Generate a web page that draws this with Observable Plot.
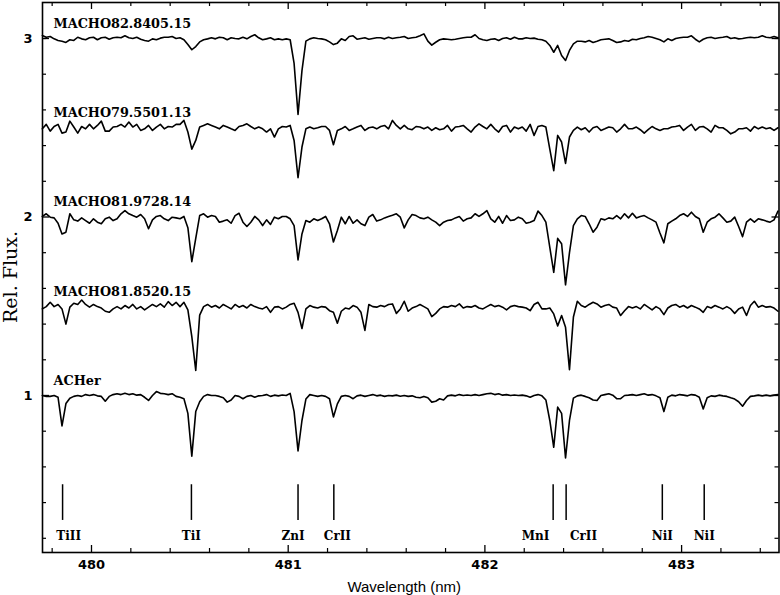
<!DOCTYPE html>
<html>
<head>
<meta charset="utf-8">
<script src="https://cdn.jsdelivr.net/npm/d3@7"></script>
<script src="https://cdn.jsdelivr.net/npm/@observablehq/plot@0.6"></script>
<style>
  html, body { margin: 0; padding: 0; background: #fff; }
  #chart svg { display: block; }
</style>
</head>
<body>
<div id="chart"></div>
<script>
// ---- Data ----
const stars = ["MACHO82.8405.15", "MACHO79.5501.13", "MACHO81.9728.14", "MACHO81.8520.15", "ACHer"];
const offsets = [2, 1.5, 1, 0.5, 0];          // vertical shift of each spectrum
const wlStart = 479.75;                       // nm, first sample
const wlStep = 0.02;                          // nm, sampling step

const fluxMACHO82 = [
1.017,1.007,1.011,0.998,0.989,0.985,0.978,0.993,0.989,1.007,
0.998,0.993,1.004,1.007,0.993,1.004,1.007,0.996,1.004,1.007,
1.004,1.015,1.004,1.0,1.007,0.996,0.989,0.985,0.998,0.993,
1.002,1.007,1.007,1.011,1.0,1.004,0.993,0.966,0.937,0.955,
0.981,0.993,0.998,1.004,0.998,1.007,1.004,0.993,1.004,1.0,
0.998,1.007,0.998,1.011,1.021,1.004,0.993,0.998,1.004,0.993,
0.998,0.993,0.998,0.993,0.86,0.575,0.82,0.985,0.998,1.004,
1.0,0.998,0.993,0.981,0.966,0.974,0.998,0.989,1.011,1.015,
0.996,1.0,1.004,0.996,1.0,1.004,1.004,0.998,1.007,1.0,
1.004,1.007,1.011,1.0,1.004,1.007,1.015,1.026,0.985,0.963,
0.979,0.993,0.998,0.996,0.993,0.996,1.0,1.004,1.007,1.007,
1.021,1.0,0.993,0.989,0.996,0.998,0.989,1.0,1.004,0.996,
1.007,0.998,0.998,1.004,1.0,1.002,0.996,0.993,0.985,0.961,
0.923,0.961,0.905,0.877,0.933,0.97,0.985,0.985,0.981,0.989,
0.978,0.985,0.993,0.996,0.998,0.989,0.978,0.981,0.989,0.985,
0.996,0.993,1.0,1.004,1.011,1.007,1.0,0.993,0.981,0.998,
0.989,1.0,1.004,1.007,1.007,1.015,0.996,0.981,0.996,1.004,
1.007,1.0,1.004,1.007,1.011,1.0,1.004,0.998,1.0,1.004,
1.007,1.004,1.007,1.015,1.007,1.004,1.011,1.004
];

const fluxMACHO79 = [
0.994,1.019,0.981,1.007,1.019,0.97,0.976,1.037,1.004,0.97,
1.007,0.994,1.019,0.994,1.013,1.037,0.981,0.981,1.004,1.007,
1.019,1.004,1.032,1.004,1.019,0.985,0.994,1.013,0.985,1.004,
1.019,0.994,1.007,1.004,1.019,1.019,1.041,0.976,0.88,0.929,
1.004,1.013,1.022,1.013,1.004,0.994,1.013,1.004,0.994,0.985,
1.007,1.013,1.022,1.007,0.994,1.004,0.994,0.976,0.994,0.948,
0.994,1.007,1.004,1.013,0.929,0.72,0.892,0.994,1.004,0.994,
1.0,1.007,1.007,0.985,0.905,0.985,0.994,1.007,0.985,0.994,
1.004,1.013,0.985,1.0,1.004,0.994,1.007,1.013,0.994,1.041,
1.013,0.994,1.013,0.994,0.989,1.007,1.004,0.994,1.004,0.985,
1.0,0.989,0.994,1.013,0.981,1.004,1.007,1.013,0.994,0.976,
1.004,1.022,1.007,0.994,1.019,0.994,0.976,1.007,1.013,0.976,
1.004,0.994,1.004,0.981,1.019,0.957,1.007,1.013,1.004,0.88,
0.76,0.957,0.92,0.80,0.948,0.985,1.004,0.989,1.0,0.976,
1.0,1.007,0.985,0.994,1.004,1.0,0.976,0.994,1.019,0.994,
0.994,1.004,0.989,0.97,0.989,1.007,0.994,0.985,0.994,0.994,
1.004,1.007,1.013,0.985,1.004,1.019,0.985,1.004,1.007,0.994,
0.976,1.013,1.0,1.0,0.985,0.966,0.976,0.994,0.994,1.0,
0.981,1.007,0.994,1.004,0.994,1.0,0.985,1.0
];

const fluxMACHO81a = [
1.003,1.018,0.999,0.995,0.965,0.905,0.915,1.018,0.984,0.977,
0.995,0.98,0.965,0.99,0.971,0.962,0.99,0.999,0.98,0.99,
1.018,1.036,1.018,1.008,0.999,1.014,0.99,0.934,0.984,1.003,
1.008,0.99,0.98,0.999,0.995,0.99,1.003,0.94,0.75,0.88,
1.008,1.018,0.999,1.008,1.003,0.971,0.977,0.984,0.965,1.008,
1.021,0.971,0.947,0.971,1.003,0.984,0.952,0.984,0.958,0.999,
0.99,1.003,1.003,0.99,0.952,0.76,0.905,0.98,0.971,0.99,
0.98,0.99,1.003,0.962,0.86,0.924,0.999,0.962,1.003,0.965,
0.984,0.962,0.952,0.999,1.014,0.977,0.984,0.995,1.003,1.01,
1.018,0.999,0.939,0.984,1.014,1.008,0.995,0.99,0.999,0.984,
0.971,0.952,0.971,0.98,0.984,0.995,1.003,0.977,0.99,0.995,
1.018,1.003,1.018,1.036,0.99,0.971,1.003,0.965,1.008,0.98,
0.984,0.999,0.99,0.965,0.971,0.98,1.033,1.008,0.971,0.83,
0.69,0.88,0.85,0.62,0.80,0.952,0.99,1.008,1.003,0.962,
0.915,0.943,0.99,0.984,0.995,0.99,1.008,0.99,1.018,0.995,
1.021,0.995,1.003,1.008,0.995,0.984,0.971,0.91,0.855,0.962,
0.977,0.99,1.008,1.018,1.003,1.027,1.003,0.99,0.915,0.971,
0.99,0.999,1.018,0.995,0.971,0.977,0.999,0.947,0.89,0.971,
0.99,0.971,0.99,0.984,0.977,0.971,0.984,1.033
];

const fluxMACHO81b = [
0.985,0.998,1.022,0.998,1.01,0.985,0.90,0.995,1.017,1.01,
1.035,1.01,0.995,1.01,0.998,0.99,0.972,0.966,0.985,0.998,
0.985,1.004,0.99,1.01,0.985,0.998,0.98,0.995,1.01,0.998,
1.013,0.995,1.026,1.004,1.022,0.998,1.022,0.98,0.83,0.64,
0.95,0.998,1.01,0.995,1.004,0.99,1.01,0.998,0.985,1.01,
0.995,1.004,0.99,1.01,0.998,0.99,0.985,0.998,0.966,0.995,
0.998,0.985,0.995,1.01,1.017,0.966,0.875,0.985,1.004,0.995,
0.99,0.998,0.995,0.975,0.966,0.905,0.972,0.99,0.985,1.004,
0.995,0.966,0.865,1.01,0.998,0.995,1.004,0.998,1.01,1.013,
0.96,0.985,1.028,0.972,0.99,0.998,1.01,0.998,0.985,0.942,
0.96,0.985,0.998,0.995,1.004,0.998,1.013,0.99,0.998,0.995,
1.004,0.99,0.985,0.998,1.01,0.998,1.004,0.995,0.98,0.998,
1.004,0.998,0.995,0.99,0.975,1.01,1.022,0.985,0.985,0.99,
0.957,0.89,0.948,0.882,0.645,0.94,1.028,1.004,0.995,1.01,
1.022,1.013,0.995,1.004,1.01,0.995,0.99,0.948,0.975,0.998,
0.99,0.998,0.985,1.01,0.995,0.98,0.998,0.985,0.953,0.99,
1.004,1.01,0.995,1.004,0.99,1.004,0.995,0.985,0.966,0.998,
0.99,1.004,0.995,0.985,0.998,0.985,0.96,0.985,0.995,0.948,
1.004,1.028,0.995,1.004,0.995,0.998,0.99,0.972
];

const fluxACHer = [
1.0,0.995,0.995,1.0,0.99,0.83,0.955,0.985,0.995,1.0,
0.995,1.005,1.0,1.005,0.998,0.995,0.968,0.995,1.005,1.01,
1.005,1.012,1.005,1.01,1.002,1.005,0.99,0.972,1.0,1.022,
1.012,1.01,1.005,1.01,0.995,0.99,0.982,0.90,0.66,0.91,
0.965,0.995,1.005,1.0,1.0,0.995,0.987,0.963,0.975,1.0,
0.995,0.982,0.995,1.0,0.99,0.998,1.0,1.005,0.995,1.002,
0.998,1.003,1.0,1.012,0.91,0.69,0.86,0.98,1.005,1.0,
0.995,1.0,0.995,0.982,0.88,0.953,0.995,1.0,0.995,0.982,
0.998,1.002,0.995,1.0,1.005,0.998,1.002,0.995,1.0,0.998,
1.002,0.996,1.0,0.995,0.998,0.99,0.987,0.995,0.987,0.963,
0.968,0.982,0.975,0.998,1.002,0.998,1.005,1.0,1.003,1.0,
1.005,1.0,1.005,1.01,1.012,1.005,1.01,1.002,1.005,1.0,
1.003,1.0,1.002,0.998,0.99,1.0,1.005,0.998,0.975,0.86,
0.71,0.935,0.90,0.65,0.86,0.985,0.998,1.002,0.995,0.987,
0.975,0.972,1.0,1.005,1.01,1.002,0.982,0.982,1.0,1.002,
1.005,1.0,1.005,1.01,1.002,1.005,0.998,0.987,0.91,0.99,
1.002,0.998,1.005,1.002,0.998,1.005,1.002,0.99,0.925,0.987,
0.998,0.995,1.002,0.998,0.995,0.987,0.98,0.965,0.94,0.972,
0.995,0.998,1.002,0.998,1.002,0.998,1.002,1.005
];

const fluxes = [fluxMACHO82, fluxMACHO79, fluxMACHO81a, fluxMACHO81b, fluxACHer];

// Line identifications
const lineNames  = ["TiII", "TiI", "ZnI", "CrII", "MnI", "CrII", "NiI", "NiI"];
const lineWaves  = [479.853, 480.508, 481.05, 481.232, 482.347, 482.413, 482.902, 483.115];
const labelWaves = [479.884, 480.508, 481.025, 481.25, 482.257, 482.501, 482.902, 483.115];

// Axis ticks
const xMajor = [480, 481, 482, 483];
const xMinor = [479.8, 480.2, 480.4, 480.6, 480.8, 481.2, 481.4, 481.6, 481.8,
                482.2, 482.4, 482.6, 482.8, 483.2, 483.4];
const yMajor = [1, 2, 3];
const yMinor = [0.2, 0.4, 0.6, 0.8, 1.2, 1.4, 1.6, 1.8, 2.2, 2.4, 2.6, 2.8, 3.0];

// ---- Build tidy table ----
const rows = [];
fluxes.forEach((f, s) => {
  f.forEach((v, i) => rows.push({star: stars[s], wl: wlStart + i * wlStep, y: v + offsets[s]}));
});
const starLabels = stars.map((name, s) => ({name, y: offsets[s] + 1.06}));
const ids = lineNames.map((name, k) => ({name, wl: lineWaves[k], lx: labelWaves[k]}));

// ---- Layout ----
const W = 780, H = 595;
const mL = 42, mR = 1.5, mT = 2, mB = 43;
const fw = W - mL - mR, fh = H - mT - mB;
const majorLen = 7, minorLen = 4;

const serif = "DejaVu Serif";
const sans = "DejaVu Sans";

const chart = Plot.plot({
  width: W, height: H,
  marginLeft: mL, marginRight: mR, marginTop: mT, marginBottom: mB,
  x: {domain: [479.7509, 483.4952], axis: null},
  y: {domain: [0.1204, 3.2017], axis: null},
  style: {background: "#fff", color: "black", overflow: "visible"},
  marks: [
    // spectra
    Plot.line(rows, {x: "wl", y: "y", z: "star", stroke: "black", strokeWidth: 1.6, strokeLinejoin: "round"}),
    // star names
    Plot.text(starLabels, {x: () => 479.807, y: "y", text: "name", textAnchor: "start", lineAnchor: "bottom",
      fontFamily: serif, fontWeight: "bold", fontSize: 12.8, fill: "black"}),
    // identification markers
    Plot.ruleX(ids, {x: "wl", y1: () => 0.30, y2: () => 0.50, stroke: "black", strokeWidth: 1.5}),
    Plot.text(ids, {x: "lx", y: () => 0.193, text: "name", lineAnchor: "bottom", textAnchor: "middle",
      fontFamily: serif, fontWeight: "bold", fontSize: 12, fill: "black"}),
    // ticks: bottom / top
    Plot.ruleX(xMajor, {x: d => d, insetTop: fh - majorLen, stroke: "black", strokeWidth: 1.3}),
    Plot.ruleX(xMinor, {x: d => d, insetTop: fh - minorLen, stroke: "black", strokeWidth: 1.2}),
    Plot.ruleX(xMajor, {x: d => d, insetBottom: fh - majorLen, stroke: "black", strokeWidth: 1.3}),
    Plot.ruleX(xMinor, {x: d => d, insetBottom: fh - minorLen, stroke: "black", strokeWidth: 1.2}),
    // ticks: left / right
    Plot.ruleY(yMajor, {y: d => d, insetRight: fw - majorLen, stroke: "black", strokeWidth: 1.3}),
    Plot.ruleY(yMinor, {y: d => d, insetRight: fw - minorLen, stroke: "black", strokeWidth: 1.2}),
    Plot.ruleY(yMajor, {y: d => d, insetLeft: fw - majorLen, stroke: "black", strokeWidth: 1.3}),
    Plot.ruleY(yMinor, {y: d => d, insetLeft: fw - minorLen, stroke: "black", strokeWidth: 1.2}),
    // tick labels
    Plot.text(xMajor, {x: d => d, frameAnchor: "bottom", dy: 12, lineAnchor: "middle", textAnchor: "middle", text: d => String(d),
      fontFamily: sans, fontWeight: "bold", fontSize: 13, fill: "black"}),
    Plot.text(yMajor, {y: d => d, frameAnchor: "left", dx: -10, textAnchor: "end", text: d => String(d),
      fontFamily: sans, fontWeight: "bold", fontSize: 13, fill: "black"}),
    // axis titles
    Plot.text(["Wavelength (nm)"], {x: () => 481.59, frameAnchor: "bottom", dy: 35, lineAnchor: "middle", textAnchor: "middle", text: d => d,
      fontFamily: "Liberation Sans", fontSize: 15, fill: "black"}),
    Plot.text(["Rel. Flux."], {y: () => 1.664, frameAnchor: "left", dx: -32, rotate: -90, lineAnchor: "middle", textAnchor: "middle", text: d => d,
      fontFamily: serif, fontSize: 19, fill: "black"}),
    // frame
    Plot.frame({stroke: "black", strokeWidth: 1.6})
  ]
});
document.getElementById("chart").appendChild(chart);
</script>
</body>
</html>
